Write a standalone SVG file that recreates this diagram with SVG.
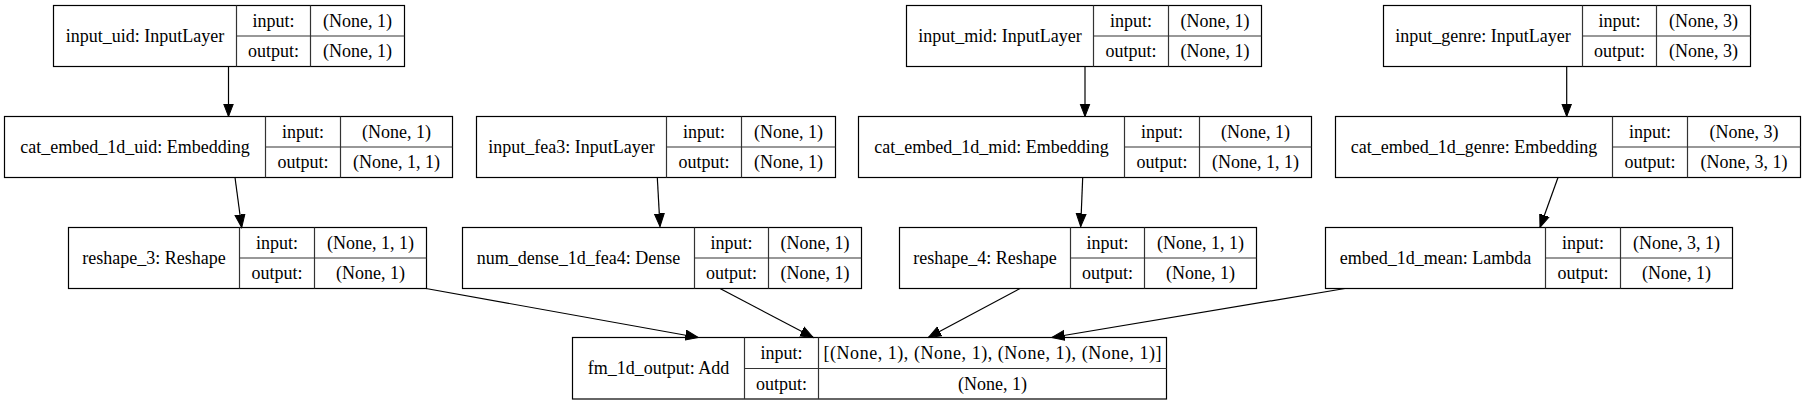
<svg xmlns="http://www.w3.org/2000/svg" width="1805" height="405" viewBox="0 0 1805 405">
<style>
.box{fill:none;stroke:#000;stroke-width:1.2}
.cell{stroke:#333;stroke-width:1.2}
text{font-family:"Liberation Serif","Times New Roman",serif;font-size:18px;fill:#000;text-anchor:middle}
.edge{fill:none;stroke:#000;stroke-width:1.2;marker-end:url(#arr)}
</style>
<defs>
<marker id="arr" markerUnits="userSpaceOnUse" viewBox="0 -6 14 12" markerWidth="14" markerHeight="12" refX="13" refY="0" orient="auto">
<path d="M0,-5 L13,0 L0,5 Z" fill="#000" stroke="#000" stroke-width="1"/>
</marker>
</defs>
<rect x="0" y="0" width="1805" height="405" fill="#fff"/>

<g id="connectors">
<line class="edge" x1="228.5" y1="66.5" x2="228.5" y2="116.5"/>
<line class="edge" x1="657.3" y1="177.5" x2="660" y2="226.5"/>
<line class="edge" x1="1085" y1="66.5" x2="1085" y2="116.5"/>
<line class="edge" x1="1566.7" y1="66.5" x2="1566.7" y2="116.5"/>
<line class="edge" x1="235" y1="177.5" x2="241.7" y2="227.5"/>
<line class="edge" x1="1082.7" y1="177.5" x2="1080.7" y2="226.5"/>
<line class="edge" x1="1558" y1="177.5" x2="1540" y2="227.5"/>
<line class="edge" x1="426" y1="288.5" x2="698.3" y2="337.5"/>
<line class="edge" x1="720" y1="288.5" x2="813.3" y2="337.5"/>
<line class="edge" x1="1020" y1="288.5" x2="928.3" y2="337.5"/>
<line class="edge" x1="1345" y1="288.5" x2="1051.7" y2="337.5"/>
</g>

<g id="input_uid">
<rect class="box" x="53.5" y="5.5" width="351" height="61"/>
<line class="cell" x1="236.5" y1="5.5" x2="236.5" y2="66.5"/>
<line class="cell" x1="310.5" y1="5.5" x2="310.5" y2="66.5"/>
<line class="cell" x1="236.5" y1="36" x2="404.5" y2="36"/>
<text x="145" y="42">input_uid: InputLayer</text>
<text x="273.5" y="27">input:</text>
<text x="273.5" y="57">output:</text>
<text x="357.5" y="27">(None, 1)</text>
<text x="357.5" y="57">(None, 1)</text>
</g>

<g id="cat_embed_1d_uid">
<rect class="box" x="4.5" y="116.5" width="448" height="61"/>
<line class="cell" x1="265.5" y1="116.5" x2="265.5" y2="177.5"/>
<line class="cell" x1="340.5" y1="116.5" x2="340.5" y2="177.5"/>
<line class="cell" x1="265.5" y1="147" x2="452.5" y2="147"/>
<text x="135" y="153">cat_embed_1d_uid: Embedding</text>
<text x="303" y="138">input:</text>
<text x="303" y="168">output:</text>
<text x="396.5" y="138">(None, 1)</text>
<text x="396.5" y="168">(None, 1, 1)</text>
</g>

<g id="input_fea3">
<rect class="box" x="476.5" y="116.5" width="359" height="61"/>
<line class="cell" x1="666.5" y1="116.5" x2="666.5" y2="177.5"/>
<line class="cell" x1="741.5" y1="116.5" x2="741.5" y2="177.5"/>
<line class="cell" x1="666.5" y1="147" x2="835.5" y2="147"/>
<text x="571.5" y="153">input_fea3: InputLayer</text>
<text x="704" y="138">input:</text>
<text x="704" y="168">output:</text>
<text x="788.5" y="138">(None, 1)</text>
<text x="788.5" y="168">(None, 1)</text>
</g>

<g id="input_mid">
<rect class="box" x="906.5" y="5.5" width="355" height="61"/>
<line class="cell" x1="1093.5" y1="5.5" x2="1093.5" y2="66.5"/>
<line class="cell" x1="1168.5" y1="5.5" x2="1168.5" y2="66.5"/>
<line class="cell" x1="1093.5" y1="36" x2="1261.5" y2="36"/>
<text x="1000" y="42">input_mid: InputLayer</text>
<text x="1131" y="27">input:</text>
<text x="1131" y="57">output:</text>
<text x="1215" y="27">(None, 1)</text>
<text x="1215" y="57">(None, 1)</text>
</g>

<g id="cat_embed_1d_mid">
<rect class="box" x="858.5" y="116.5" width="453" height="61"/>
<line class="cell" x1="1124.5" y1="116.5" x2="1124.5" y2="177.5"/>
<line class="cell" x1="1199.5" y1="116.5" x2="1199.5" y2="177.5"/>
<line class="cell" x1="1124.5" y1="147" x2="1311.5" y2="147"/>
<text x="991.5" y="153">cat_embed_1d_mid: Embedding</text>
<text x="1162" y="138">input:</text>
<text x="1162" y="168">output:</text>
<text x="1255.5" y="138">(None, 1)</text>
<text x="1255.5" y="168">(None, 1, 1)</text>
</g>

<g id="input_genre">
<rect class="box" x="1383.5" y="5.5" width="367" height="61"/>
<line class="cell" x1="1582.5" y1="5.5" x2="1582.5" y2="66.5"/>
<line class="cell" x1="1656.5" y1="5.5" x2="1656.5" y2="66.5"/>
<line class="cell" x1="1582.5" y1="36" x2="1750.5" y2="36"/>
<text x="1483" y="42">input_genre: InputLayer</text>
<text x="1619.5" y="27">input:</text>
<text x="1619.5" y="57">output:</text>
<text x="1703.5" y="27">(None, 3)</text>
<text x="1703.5" y="57">(None, 3)</text>
</g>

<g id="cat_embed_1d_genre">
<rect class="box" x="1335.5" y="116.5" width="465" height="61"/>
<line class="cell" x1="1612.5" y1="116.5" x2="1612.5" y2="177.5"/>
<line class="cell" x1="1687.5" y1="116.5" x2="1687.5" y2="177.5"/>
<line class="cell" x1="1612.5" y1="147" x2="1800.5" y2="147"/>
<text x="1474" y="153">cat_embed_1d_genre: Embedding</text>
<text x="1650" y="138">input:</text>
<text x="1650" y="168">output:</text>
<text x="1744" y="138">(None, 3)</text>
<text x="1744" y="168">(None, 3, 1)</text>
</g>

<g id="reshape_3">
<rect class="box" x="68.5" y="227.5" width="358" height="61"/>
<line class="cell" x1="239.5" y1="227.5" x2="239.5" y2="288.5"/>
<line class="cell" x1="314.5" y1="227.5" x2="314.5" y2="288.5"/>
<line class="cell" x1="239.5" y1="258" x2="426.5" y2="258"/>
<text x="154" y="264">reshape_3: Reshape</text>
<text x="277" y="249">input:</text>
<text x="277" y="279">output:</text>
<text x="370.5" y="249">(None, 1, 1)</text>
<text x="370.5" y="279">(None, 1)</text>
</g>

<g id="num_dense_1d_fea4">
<rect class="box" x="462.5" y="227.5" width="399" height="61"/>
<line class="cell" x1="694.5" y1="227.5" x2="694.5" y2="288.5"/>
<line class="cell" x1="768.5" y1="227.5" x2="768.5" y2="288.5"/>
<line class="cell" x1="694.5" y1="258" x2="861.5" y2="258"/>
<text x="578.5" y="264">num_dense_1d_fea4: Dense</text>
<text x="731.5" y="249">input:</text>
<text x="731.5" y="279">output:</text>
<text x="815" y="249">(None, 1)</text>
<text x="815" y="279">(None, 1)</text>
</g>

<g id="reshape_4">
<rect class="box" x="899.5" y="227.5" width="357" height="61"/>
<line class="cell" x1="1070.5" y1="227.5" x2="1070.5" y2="288.5"/>
<line class="cell" x1="1144.5" y1="227.5" x2="1144.5" y2="288.5"/>
<line class="cell" x1="1070.5" y1="258" x2="1256.5" y2="258"/>
<text x="985" y="264">reshape_4: Reshape</text>
<text x="1107.5" y="249">input:</text>
<text x="1107.5" y="279">output:</text>
<text x="1200.5" y="249">(None, 1, 1)</text>
<text x="1200.5" y="279">(None, 1)</text>
</g>

<g id="embed_1d_mean">
<rect class="box" x="1325.5" y="227.5" width="407" height="61"/>
<line class="cell" x1="1545.5" y1="227.5" x2="1545.5" y2="288.5"/>
<line class="cell" x1="1620.5" y1="227.5" x2="1620.5" y2="288.5"/>
<line class="cell" x1="1545.5" y1="258" x2="1732.5" y2="258"/>
<text x="1435.5" y="264">embed_1d_mean: Lambda</text>
<text x="1583" y="249">input:</text>
<text x="1583" y="279">output:</text>
<text x="1676.5" y="249">(None, 3, 1)</text>
<text x="1676.5" y="279">(None, 1)</text>
</g>

<g id="fm_1d_output">
<rect class="box" x="572.5" y="337.5" width="594" height="61.5"/>
<line class="cell" x1="744.5" y1="337.5" x2="744.5" y2="399"/>
<line class="cell" x1="818.5" y1="337.5" x2="818.5" y2="399"/>
<line class="cell" x1="744.5" y1="368.5" x2="1166.5" y2="368.5"/>
<text x="658.5" y="374">fm_1d_output: Add</text>
<text x="781.5" y="359">input:</text>
<text x="781.5" y="390">output:</text>
<text x="992.5" y="359" textLength="338" lengthAdjust="spacing">[(None, 1), (None, 1), (None, 1), (None, 1)]</text>
<text x="992.5" y="390">(None, 1)</text>
</g>
</svg>
